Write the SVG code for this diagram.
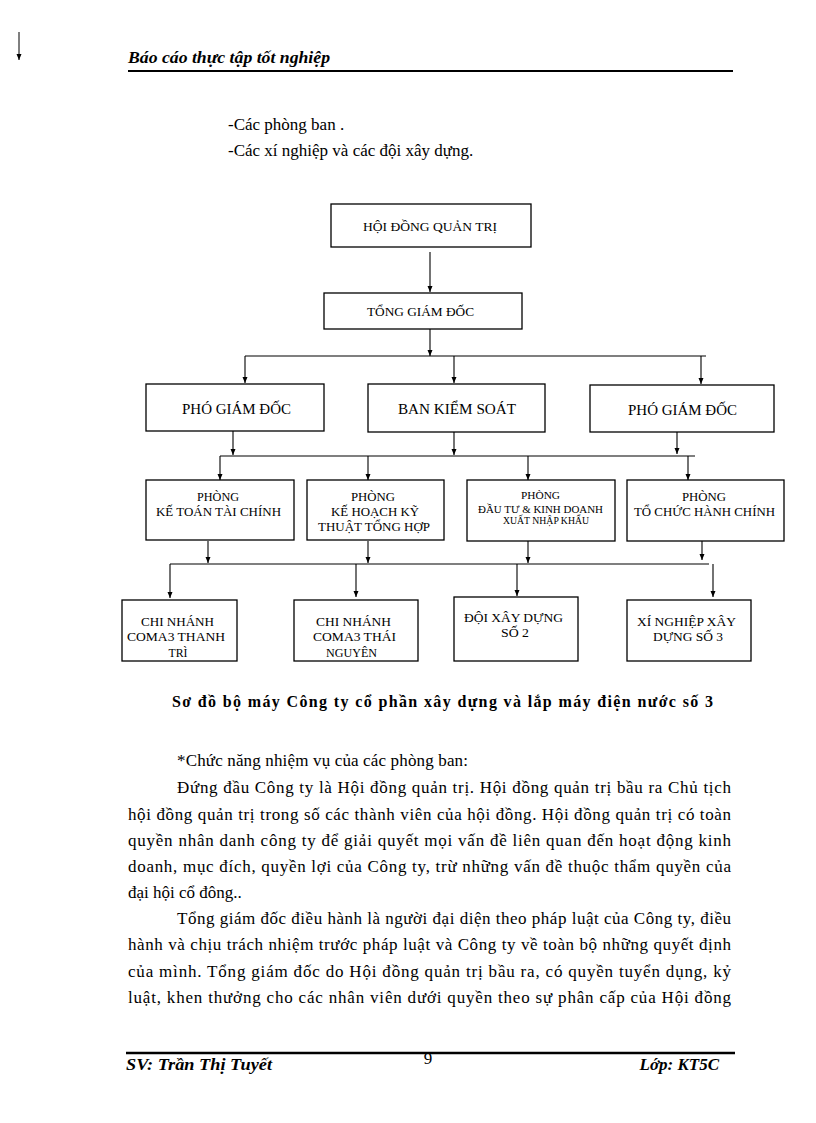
<svg xmlns="http://www.w3.org/2000/svg" width="816" height="1123" viewBox="0 0 816 1123">
<style>
.box{fill:#fff;stroke:#000;stroke-width:1.3}
.bt{font-family:"Liberation Serif","Times New Roman",serif;font-size:13.5px;fill:#000;text-anchor:middle}
.bt2{font-family:"Liberation Serif","Times New Roman",serif;font-size:15px;fill:#000;text-anchor:middle}
.sm{font-family:"Liberation Serif","Times New Roman",serif;font-size:11px;fill:#000;text-anchor:middle}
.body{font-family:"Liberation Serif","Times New Roman",serif;font-size:17px;fill:#000}
.hdr{font-family:"Liberation Serif","Times New Roman",serif;font-size:17px;font-weight:bold;font-style:italic;fill:#000}
.cap{font-family:"Liberation Serif","Times New Roman",serif;font-size:16px;font-weight:bold;fill:#000}
.conn line{stroke:#000;stroke-width:1.1}
.arr{marker-end:url(#ah)}
</style>
<defs>
<marker id="ah" markerUnits="userSpaceOnUse" markerWidth="6" markerHeight="6" refX="6" refY="2.5" orient="auto">
<path d="M0,0 L6,2.5 L0,5 z" fill="#000"/>
</marker>
</defs>
<rect width="816" height="1123" fill="#fff"/>

<!-- page header -->
<line x1="19" y1="32" x2="19" y2="60" stroke="#000" stroke-width="1" marker-end="url(#ah)"/>
<text class="hdr" x="128" y="63" textLength="202" lengthAdjust="spacingAndGlyphs">Báo cáo thực tập tốt nghiệp</text>
<line x1="128" y1="71" x2="733" y2="71" stroke="#000" stroke-width="2.2"/>
<text class="body" x="228" y="130">-Các phòng ban .</text>
<text class="body" x="228" y="156">-Các xí nghiệp và các đội xây dựng.</text>

<!-- connectors -->
<g id="connectors" class="conn">
<line class="arr" x1="430" y1="252" x2="430" y2="292"/>
<line class="arr" x1="430" y1="329" x2="430" y2="356"/>
<line x1="245" y1="356" x2="706" y2="356"/>
<line class="arr" x1="245" y1="356" x2="245" y2="383"/>
<line class="arr" x1="454" y1="356" x2="454" y2="383"/>
<line class="arr" x1="701" y1="356" x2="701" y2="384"/>
<line class="arr" x1="233" y1="431" x2="233" y2="455"/>
<line class="arr" x1="454" y1="432" x2="454" y2="455"/>
<line class="arr" x1="677" y1="432" x2="677" y2="454"/>
<line x1="220" y1="456" x2="695" y2="456"/>
<line class="arr" x1="220" y1="456" x2="220" y2="480"/>
<line class="arr" x1="368" y1="456" x2="368" y2="480"/>
<line class="arr" x1="528" y1="456" x2="528" y2="480"/>
<line class="arr" x1="688" y1="456" x2="688" y2="480"/>
<line class="arr" x1="208" y1="541" x2="208" y2="563"/>
<line class="arr" x1="368" y1="541" x2="368" y2="563"/>
<line class="arr" x1="528" y1="541" x2="528" y2="563"/>
<line class="arr" x1="702" y1="541" x2="702" y2="560"/>
<line x1="170" y1="564" x2="709" y2="564"/>
<line class="arr" x1="170" y1="564" x2="170" y2="598"/>
<line class="arr" x1="356" y1="564" x2="356" y2="597"/>
<line class="arr" x1="517" y1="564" x2="517" y2="596"/>
<line class="arr" x1="713" y1="564" x2="713" y2="597"/>
</g>

<!-- nodes -->
<g id="hdqt">
<rect class="box" x="331" y="204" width="200" height="43"/>
<text class="bt" x="430" y="231" textLength="134" lengthAdjust="spacingAndGlyphs">HỘI ĐỒNG  QUẢN TRỊ</text>
</g>
<g id="tgd">
<rect class="box" x="324" y="293" width="198" height="36"/>
<text class="bt" x="420.5" y="316" textLength="107" lengthAdjust="spacingAndGlyphs">TỔNG GIÁM ĐỐC</text>
</g>
<g id="pgd1">
<rect class="box" x="146" y="384" width="178" height="47"/>
<text class="bt2" x="236.5" y="414" textLength="109" lengthAdjust="spacingAndGlyphs">PHÓ GIÁM ĐỐC</text>
</g>
<g id="bks">
<rect class="box" x="368" y="384" width="177" height="48"/>
<text class="bt2" x="457" y="414" textLength="118" lengthAdjust="spacingAndGlyphs">BAN KIỂM SOÁT</text>
</g>
<g id="pgd2">
<rect class="box" x="590" y="385" width="184" height="47"/>
<text class="bt2" x="682.5" y="415" textLength="109" lengthAdjust="spacingAndGlyphs">PHÓ GIÁM ĐỐC</text>
</g>
<g id="ketoan">
<rect class="box" x="146" y="480" width="148" height="60"/>
<text class="bt" x="218" y="501" textLength="42" lengthAdjust="spacingAndGlyphs">PHÒNG</text>
<text class="bt" x="218.5" y="516" textLength="125" lengthAdjust="spacingAndGlyphs">KẾ TOÁN TÀI CHÍNH</text>
</g>
<g id="kehoach">
<rect class="box" x="307" y="480" width="137" height="60"/>
<text class="bt" x="373" y="501" textLength="44" lengthAdjust="spacingAndGlyphs">PHÒNG</text>
<text class="bt" x="375" y="516" textLength="88" lengthAdjust="spacingAndGlyphs">KẾ HOẠCH KỸ</text>
<text class="bt" x="374" y="531" textLength="112" lengthAdjust="spacingAndGlyphs">THUẬT TỔNG HỢP</text>
</g>
<g id="dautu">
<rect class="box" x="467" y="480" width="148" height="61"/>
<text class="sm" x="540.5" y="499" textLength="39" lengthAdjust="spacingAndGlyphs">PHÒNG</text>
<text class="sm" x="540.5" y="513" textLength="125" lengthAdjust="spacingAndGlyphs">ĐẦU TƯ &amp; KINH DOANH</text>
<text class="sm" x="546" y="524" textLength="86" lengthAdjust="spacingAndGlyphs">XUẤT NHẬP KHẨU</text>
</g>
<g id="tochuc">
<rect class="box" x="627" y="480" width="157" height="61"/>
<text class="bt" x="704" y="501" textLength="44" lengthAdjust="spacingAndGlyphs">PHÒNG</text>
<text class="bt" x="704.5" y="516" textLength="141" lengthAdjust="spacingAndGlyphs">TỔ CHỨC HÀNH CHÍNH</text>
</g>
<g id="thanhtri">
<rect class="box" x="122" y="600" width="115" height="61"/>
<text class="bt" x="177.5" y="626" textLength="73" lengthAdjust="spacingAndGlyphs">CHI NHÁNH</text>
<text class="bt" x="176" y="641" textLength="98" lengthAdjust="spacingAndGlyphs">COMA3 THANH</text>
<text class="bt" x="178" y="657" textLength="19" lengthAdjust="spacingAndGlyphs">TRÌ</text>
</g>
<g id="thainguyen">
<rect class="box" x="294" y="600" width="124" height="61"/>
<text class="bt" x="353.5" y="626" textLength="75" lengthAdjust="spacingAndGlyphs">CHI NHÁNH</text>
<text class="bt" x="354.5" y="641" textLength="83" lengthAdjust="spacingAndGlyphs">COMA3 THÁI</text>
<text class="bt" x="351.5" y="657" textLength="51" lengthAdjust="spacingAndGlyphs">NGUYÊN</text>
</g>
<g id="doi2">
<rect class="box" x="454" y="597" width="124" height="64"/>
<text class="bt" x="513.5" y="622" textLength="99" lengthAdjust="spacingAndGlyphs">ĐỘI XÂY DỰNG</text>
<text class="bt" x="515" y="637" textLength="28" lengthAdjust="spacingAndGlyphs">SỐ 2</text>
</g>
<g id="xn3">
<rect class="box" x="627" y="600" width="124" height="61"/>
<text class="bt" x="686.5" y="626" textLength="99" lengthAdjust="spacingAndGlyphs">XÍ NGHIỆP  XÂY</text>
<text class="bt" x="688" y="641" textLength="70" lengthAdjust="spacingAndGlyphs">DỰNG SỐ 3</text>
</g>

<!-- caption -->
<text class="cap" x="172" y="707" textLength="541" lengthAdjust="spacing">Sơ đồ bộ máy Công ty cổ phần xây dựng  và lắp máy điện nước số 3</text>

<!-- body text -->
<text class="body" x="177" y="766" textLength="291" lengthAdjust="spacing">*Chức năng nhiệm vụ của các phòng ban:</text>
<text class="body" x="177" y="793" textLength="554" lengthAdjust="spacing">Đứng đầu Công ty là Hội đồng quản trị. Hội đồng quản trị bầu ra Chủ tịch</text>
<text class="body" x="128" y="820" textLength="603" lengthAdjust="spacing">hội đồng quản trị trong số các thành viên của hội đồng. Hội đồng quản trị  có toàn</text>
<text class="body" x="128" y="846" textLength="603" lengthAdjust="spacing">quyền nhân danh công ty để giải quyết mọi vấn đề liên quan đến hoạt động kinh</text>
<text class="body" x="128" y="872" textLength="603" lengthAdjust="spacing">doanh, mục đích, quyền lợi của Công ty, trừ những vấn đề thuộc thẩm quyền của</text>
<text class="body" x="128" y="898">đại hội cổ đông..</text>
<text class="body" x="177" y="924" textLength="554" lengthAdjust="spacing">Tổng giám đốc điều hành là người đại diện theo pháp luật của Công ty, điều</text>
<text class="body" x="128" y="950" textLength="603" lengthAdjust="spacing">hành và chịu trách nhiệm trước pháp luật và Công ty về toàn bộ những quyết định</text>
<text class="body" x="128" y="977" textLength="603" lengthAdjust="spacing">của mình. Tổng giám đốc do Hội đồng quản trị bầu ra, có quyền tuyển dụng, kỷ</text>
<text class="body" x="128" y="1003" textLength="603" lengthAdjust="spacing">luật, khen thưởng cho các nhân viên dưới quyền theo sự phân cấp của Hội đồng</text>

<!-- footer -->
<line x1="126" y1="1053" x2="735" y2="1053" stroke="#000" stroke-width="2.4"/>
<text class="hdr" x="126" y="1070" textLength="146" lengthAdjust="spacingAndGlyphs">SV: Trần Thị Tuyết</text>
<text class="body" x="428" y="1064" font-size="15" text-anchor="middle">9</text>
<text class="hdr" x="719" y="1070" text-anchor="end">Lớp: KT5C</text>
</svg>
